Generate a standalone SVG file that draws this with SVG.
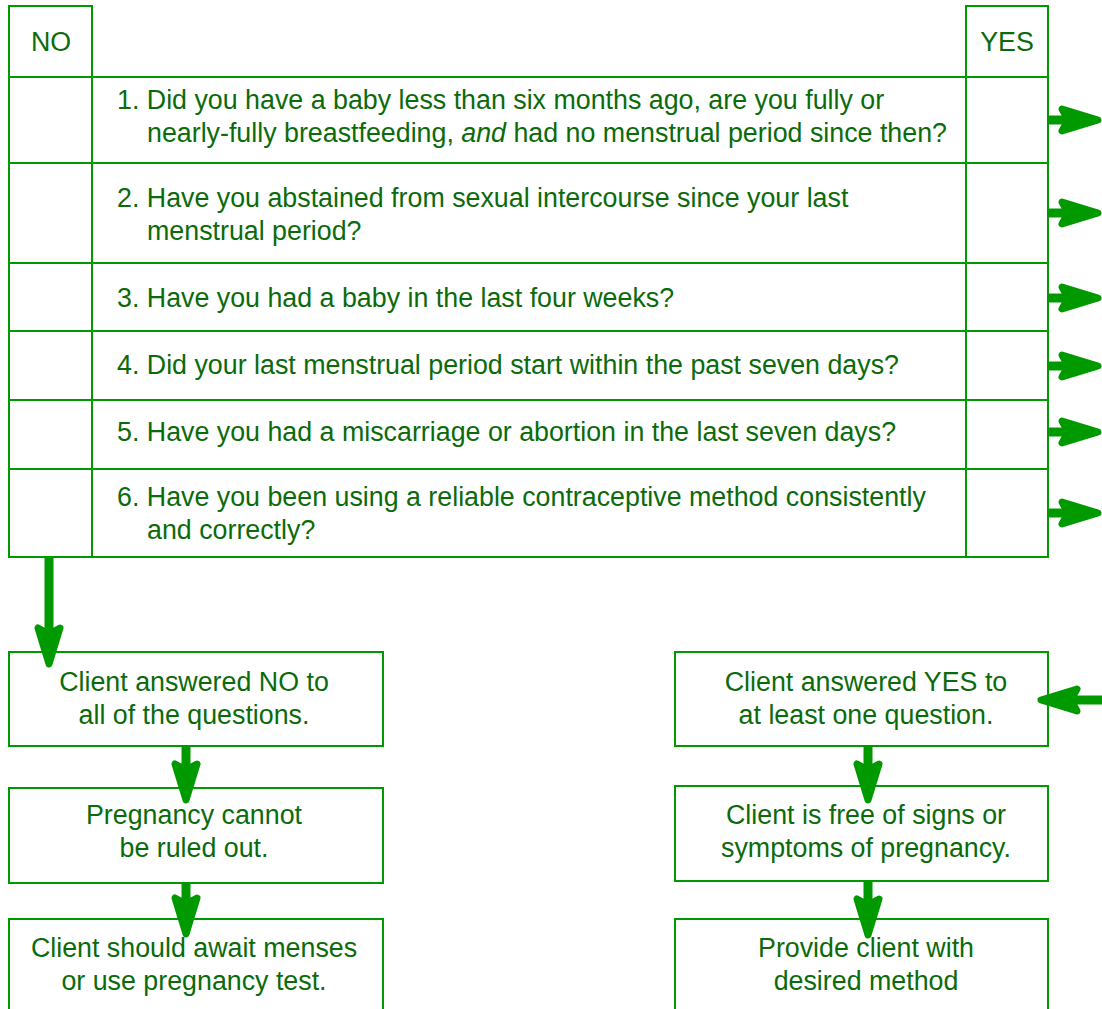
<svg xmlns="http://www.w3.org/2000/svg" width="1102" height="1009" viewBox="0 0 1102 1009">
<style>
  .ln { stroke: #009900; stroke-width: 2; fill: none; }
  .box { stroke: #009900; stroke-width: 2; fill: #ffffff; }
  .t { font-family: "Liberation Sans", Arial, sans-serif; font-size: 26.8px; fill: #0b6b0b; }
  .c { text-anchor: middle; }
  .arr { stroke: #009900; stroke-width: 9; fill: none; marker-end: url(#ah); }
</style>
<defs>
  <marker id="ah" markerUnits="userSpaceOnUse" orient="auto" refX="-22" refY="0" markerWidth="60" markerHeight="40" overflow="visible">
    <path d="M -3,0 L -39,-11 L -33,0 L -39,11 Z" fill="#009900" stroke="#009900" stroke-width="7" stroke-linejoin="round"/>
  </marker>
</defs>
<rect x="0" y="0" width="1102" height="1009" fill="#ffffff"/>

<g id="table">
  <g id="grid">
    <line class="ln" x1="9" y1="6" x2="9" y2="557"/>
    <line class="ln" x1="92" y1="6" x2="92" y2="557"/>
    <line class="ln" x1="966" y1="6" x2="966" y2="557"/>
    <line class="ln" x1="1048" y1="6" x2="1048" y2="557"/>
    <line class="ln" x1="8" y1="6" x2="93" y2="6"/>
    <line class="ln" x1="965" y1="6" x2="1049" y2="6"/>
    <line class="ln" x1="8" y1="77" x2="1049" y2="77"/>
    <line class="ln" x1="8" y1="163" x2="1049" y2="163"/>
    <line class="ln" x1="8" y1="263" x2="1049" y2="263"/>
    <line class="ln" x1="8" y1="331" x2="1049" y2="331"/>
    <line class="ln" x1="8" y1="400" x2="1049" y2="400"/>
    <line class="ln" x1="8" y1="469" x2="1049" y2="469"/>
    <line class="ln" x1="8" y1="557" x2="1049" y2="557"/>
  </g>
  <g id="header-no"><text class="t c" x="51" y="51">NO</text></g>
  <g id="header-yes"><text class="t c" x="1007" y="51">YES</text></g>
  <g id="q1">
    <text class="t" x="117" y="109">1. Did you have a baby less than six months ago, are you fully or</text>
    <text class="t" x="147" y="142">nearly-fully breastfeeding, <tspan font-style="italic">and</tspan> had no menstrual period since then?</text>
  </g>
  <g id="q2">
    <text class="t" x="117" y="207">2. Have you abstained from sexual intercourse since your last</text>
    <text class="t" x="147" y="240">menstrual period?</text>
  </g>
  <g id="q3"><text class="t" x="117" y="307">3. Have you had a baby in the last four weeks?</text></g>
  <g id="q4"><text class="t" x="117" y="374">4. Did your last menstrual period start within the past seven days?</text></g>
  <g id="q5"><text class="t" x="117" y="441">5. Have you had a miscarriage or abortion in the last seven days?</text></g>
  <g id="q6">
    <text class="t" x="117" y="506">6. Have you been using a reliable contraceptive method consistently</text>
    <text class="t" x="147" y="539">and correctly?</text>
  </g>
</g>

<g id="no-all">
  <rect class="box" x="9" y="652" width="374" height="94"/>
  <text class="t c" x="194" y="691">Client answered NO to</text>
  <text class="t c" x="194" y="724">all of the questions.</text>
</g>
<g id="not-ruled-out">
  <rect class="box" x="9" y="788" width="374" height="95"/>
  <text class="t c" x="194" y="824">Pregnancy cannot</text>
  <text class="t c" x="194" y="857">be ruled out.</text>
</g>
<g id="await-menses">
  <rect class="box" x="9" y="919" width="374" height="100"/>
  <text class="t c" x="194" y="957">Client should await menses</text>
  <text class="t c" x="194" y="990">or use pregnancy test.</text>
</g>
<g id="yes-one">
  <rect class="box" x="675" y="652" width="373" height="94"/>
  <text class="t c" x="866" y="691">Client answered YES to</text>
  <text class="t c" x="866" y="724">at least one question.</text>
</g>
<g id="free-of-signs">
  <rect class="box" x="675" y="786" width="373" height="95"/>
  <text class="t c" x="866" y="824">Client is free of signs or</text>
  <text class="t c" x="866" y="857">symptoms of pregnancy.</text>
</g>
<g id="provide-method">
  <rect class="box" x="675" y="919" width="373" height="100"/>
  <text class="t c" x="866" y="957">Provide client with</text>
  <text class="t c" x="866" y="990">desired method</text>
</g>

<g id="connectors">
  <line class="arr" x1="1048" y1="120" x2="1079" y2="120"/>
  <line class="arr" x1="1048" y1="213" x2="1079" y2="213"/>
  <line class="arr" x1="1048" y1="298" x2="1079" y2="298"/>
  <line class="arr" x1="1048" y1="366" x2="1079" y2="366"/>
  <line class="arr" x1="1048" y1="432" x2="1079" y2="432"/>
  <line class="arr" x1="1048" y1="513" x2="1079" y2="513"/>
  <line class="arr" x1="49" y1="558" x2="49" y2="645"/>
  <line class="arr" x1="186" y1="746" x2="186" y2="781"/>
  <line class="arr" x1="186" y1="883" x2="186" y2="915"/>
  <line class="arr" x1="1106" y1="700" x2="1060" y2="700"/>
  <line class="arr" x1="868" y1="746" x2="868" y2="781"/>
  <line class="arr" x1="868" y1="881" x2="868" y2="916"/>
</g>
</svg>
